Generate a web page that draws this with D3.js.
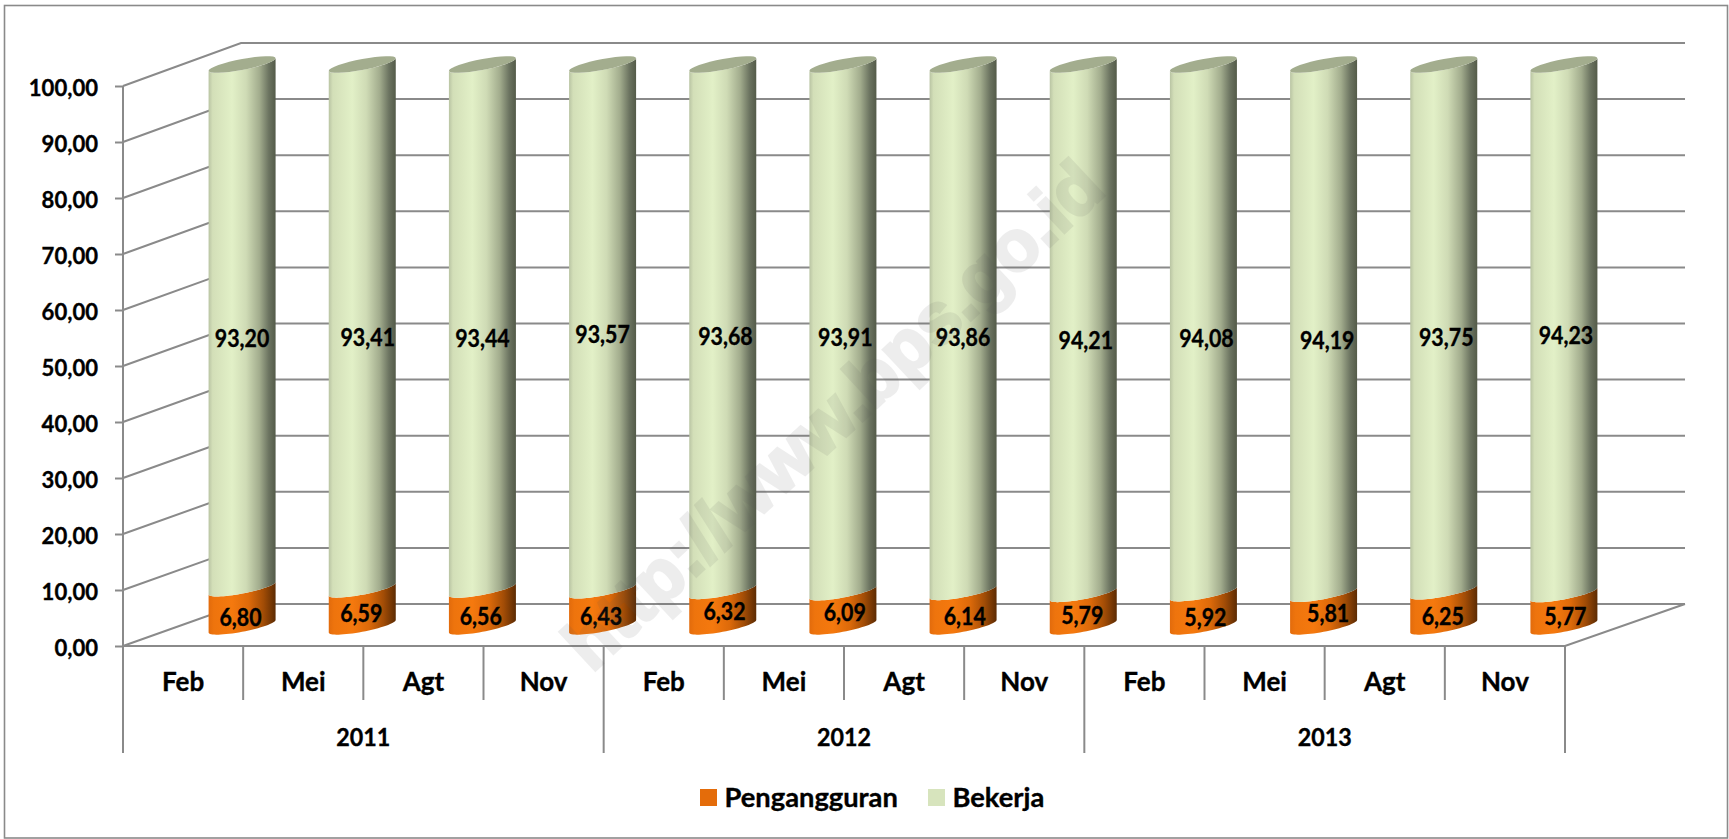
<!DOCTYPE html>
<html>
<head>
<meta charset="utf-8">
<script src="https://cdnjs.cloudflare.com/ajax/libs/d3/7.8.5/d3.min.js"></script>
<style>
  html, body { margin: 0; padding: 0; background: #fff; }
  svg { display: block; }
  text { font-family: Lato, sans-serif; font-weight: 700; fill: #000; stroke: #000; stroke-width: 0.35; }
  .axis .domain { display: none; }
  .axis line, .rule { stroke: #8a8a8a; stroke-width: 2; fill: none; }
</style>
</head>
<body>
<div id="chart"></div>
<script>
var months = ['Feb', 'Mei', 'Agt', 'Nov', 'Feb', 'Mei', 'Agt', 'Nov', 'Feb', 'Mei', 'Agt', 'Nov'];
var years = ['2011', '2012', '2013'];
var pengangguran = [6.80, 6.59, 6.56, 6.43, 6.32, 6.09, 6.14, 5.79, 5.92, 5.81, 6.25, 5.77];
var bekerja = [93.20, 93.41, 93.44, 93.57, 93.68, 93.91, 93.86, 94.21, 94.08, 94.19, 93.75, 94.23];
var yTicks = [0, 10, 20, 30, 40, 50, 60, 70, 80, 90, 100];
var legendNames = ['Pengangguran', 'Bekerja'];

// labels in the source were dragged by hand, so each one has its own offset
var bekerjaNudgeX = [0, 5.5, 0, 0, 2.7, 2.4, 0, 2.6, 3, 3.6, 2.5, 2];
var bekerjaNudgeY = [11.7, 10.6, 11, 6.7, 8.4, 8.7, 9.4, 11.6, 9.5, 10.9, 9.5, 6.5];
var pengangguranNudgeX = [-1.5, -1, -1.7, -1.4, 1.8, 1.8, 1.7, -1, 2, 4.6, -1, 1.5];
var pengangguranNudgeY = [10.5, 5.5, 8.1, 7.8, 3.2, 3.1, 7.7, 5, 8, 3.3, 7.3, 5.9];

var width = 1729, height = 839;
var floorLeft = 123, floorRight = 1565, depthX = 118;
var barWidth = 67, capShear = 6.3, capDepth = 5.5;

var svg = d3.select('#chart').append('svg')
  .attr('width', width)
  .attr('height', height);

// frame
svg.append('rect')
  .attr('x', 4.5).attr('y', 5.5)
  .attr('width', 1723).attr('height', 832.5)
  .attr('fill', '#fff')
  .attr('stroke', '#8a8a8a')
  .attr('stroke-width', 1.6);

var x = d3.scaleBand().domain(d3.range(months.length)).range([floorLeft, floorRight]);
var xYear = d3.scaleBand().domain(years).range([floorLeft, floorRight]);
var yFront = d3.scaleLinear().domain([0, 100]).range([646, 86]);
var yBack = d3.scaleLinear().domain([0, 100]).range([604, 43]);
var yBar = d3.scaleLinear().domain([0, 100]).range([626.3, 64.5]);

var comma = d3.formatLocale({ decimal: ',', thousands: '.', grouping: [3], currency: ['', ''] }).format('.2f');

// Lato is wider than the font of the source, so squeeze glyphs to fit
function squeeze(sel, factor) {
  sel.each(function () {
    d3.select(this)
      .attr('textLength', this.getComputedTextLength() * factor)
      .attr('lengthAdjust', 'spacingAndGlyphs');
  });
}

// gradients
var defs = svg.append('defs');
function gradient(id, stops) {
  var g = defs.append('linearGradient').attr('id', id);
  g.selectAll('stop').data(stops).join('stop')
    .attr('offset', d => d[0])
    .attr('stop-color', d => d[1]);
}
gradient('greenBody', [[0, '#b9c4a3'], [0.06, '#d3dfb8'], [0.35, '#e2f0c7'], [0.56, '#cfdbb5'],
  [0.76, '#a2ac8d'], [0.9, '#6b7360'], [1, '#545b49']]);
gradient('orangeBody', [[0, '#e26b0c'], [0.08, '#ee740d'], [0.35, '#f5790e'], [0.6, '#dd6a0a'],
  [0.82, '#a14c06'], [1, '#5c2b03']]);

// walls and floor
var walls = svg.append('g');
walls.selectAll('.wall').data(yTicks).join('path')
  .attr('class', 'rule wall')
  .attr('d', d => d3.line()([[floorLeft, yFront(d)], [floorLeft + depthX, yBack(d)], [floorRight + depthX + 2, yBack(d)]]));
walls.append('path')
  .attr('class', 'rule')
  .attr('d', d3.line()([[floorLeft, yFront(0)], [floorRight, yFront(0)], [floorRight + depthX + 2, yBack(0)]]));

// value axis
var yAxisLayer = svg.append('g')
  .attr('class', 'axis')
  .attr('transform', 'translate(' + floorLeft + ',0)')
  .call(d3.axisLeft(yFront).tickValues(yTicks).tickFormat(comma).tickSize(8).tickPadding(17));
yAxisLayer.selectAll('text').attr('font-size', 23).attr('dy', '0.42em').call(squeeze, 0.96);
yAxisLayer.append('line').attr('y1', yFront(0)).attr('y2', yFront(100));

// category separators, two tiers
svg.selectAll('.tick-month').data(d3.range(months.length + 1)).join('line')
  .attr('class', 'rule tick-month')
  .attr('x1', d => floorLeft + d * x.bandwidth()).attr('x2', d => floorLeft + d * x.bandwidth())
  .attr('y1', yFront(0)).attr('y2', 700);
svg.selectAll('.tick-year').data(d3.range(years.length + 1)).join('line')
  .attr('class', 'rule tick-year')
  .attr('x1', d => floorLeft + d * xYear.bandwidth()).attr('x2', d => floorLeft + d * xYear.bandwidth())
  .attr('y1', 700).attr('y2', 753);

var monthAxis = svg.append('g').attr('class', 'axis')
  .attr('transform', 'translate(0,' + yFront(0) + ')')
  .call(d3.axisBottom(x).tickSize(0).tickPadding(27).tickFormat(i => months[i]));
monthAxis.selectAll('text').attr('font-size', 26);

var yearAxis = svg.append('g').attr('class', 'axis')
  .attr('transform', 'translate(0,' + yFront(0) + ')')
  .call(d3.axisBottom(xYear).tickSize(0).tickPadding(83));
yearAxis.selectAll('text').attr('font-size', 24).call(squeeze, 0.97);

// cylinders
var barCx = i => x(i) + x.bandwidth() / 2 + depthX / 2;

function rimPoints(i, v, from, to) {
  var cx = barCx(i), cy = yBar(v);
  return d3.range(0, 33).map(k => {
    var t = from + (to - from) * k / 32;
    return [cx + barWidth / 2 * Math.cos(t), cy - capShear * Math.cos(t) + capDepth * Math.sin(t)];
  });
}
function segmentPath(i, v0, v1) {
  // top edge is the front rim of v1 (left to right), bottom edge the front rim of v0 (right to left)
  var pts = rimPoints(i, v1, Math.PI, 0).concat(rimPoints(i, v0, 0, Math.PI));
  return d3.line()(pts) + 'Z';
}

var bars = svg.append('g');
bars.selectAll('.orange').data(pengangguran).join('path')
  .attr('class', 'orange')
  .attr('fill', 'url(#orangeBody)')
  .attr('d', (d, i) => segmentPath(i, 0, d));
bars.selectAll('.green').data(bekerja).join('path')
  .attr('class', 'green')
  .attr('fill', 'url(#greenBody)')
  .attr('d', (d, i) => segmentPath(i, pengangguran[i], pengangguran[i] + d));
bars.selectAll('.cap').data(bekerja).join('path')
  .attr('class', 'cap')
  .attr('fill', '#a3ad8e')
  .attr('d', (d, i) => d3.line()(rimPoints(i, pengangguran[i] + d, 0, 2 * Math.PI)) + 'Z');

// data labels
var labels = svg.append('g').attr('text-anchor', 'middle').attr('font-size', 24);
labels.selectAll('.lab-green').data(bekerja).join('text')
  .attr('class', 'lab-green')
  .attr('x', (d, i) => barCx(i) + bekerjaNudgeX[i])
  .attr('y', (d, i) => yBar(pengangguran[i] + d / 2) + bekerjaNudgeY[i])
  .attr('dy', '0.36em')
  .text(d => comma(d))
  .call(squeeze, 0.89);
labels.selectAll('.lab-orange').data(pengangguran).join('text')
  .attr('class', 'lab-orange')
  .attr('x', (d, i) => barCx(i) + pengangguranNudgeX[i])
  .attr('y', (d, i) => yBar(d / 2) + pengangguranNudgeY[i])
  .attr('dy', '0.36em')
  .text(d => comma(d))
  .call(squeeze, 0.89);

// legend
var legendColor = d3.scaleOrdinal().domain(legendNames).range(['#e46c0a', '#d7e4bd']);
var legendX = d3.scaleOrdinal().domain(legendNames).range([700, 928]);
var legend = svg.append('g').selectAll('g').data(legendNames).join('g')
  .attr('transform', d => 'translate(' + legendX(d) + ',789)');
legend.append('rect').attr('width', 17).attr('height', 17).attr('fill', d => legendColor(d));
legend.append('text').attr('x', 24.5).attr('y', 17.7).attr('font-size', 26).text(d => d).call(squeeze, 1.05);

// watermark
svg.append('text')
  .attr('transform', 'translate(832,414) rotate(-43)')
  .attr('text-anchor', 'middle')
  .attr('dy', '0.36em')
  .attr('font-size', 72)
  .style('font-family', '"Liberation Sans", sans-serif')
  .style('fill', '#5a5a5a')
  .style('stroke', '#5a5a5a')
  .style('stroke-width', 3)
  .attr('opacity', 0.1)
  .text('http://www.bps.go.id');
</script>
</body>
</html>
